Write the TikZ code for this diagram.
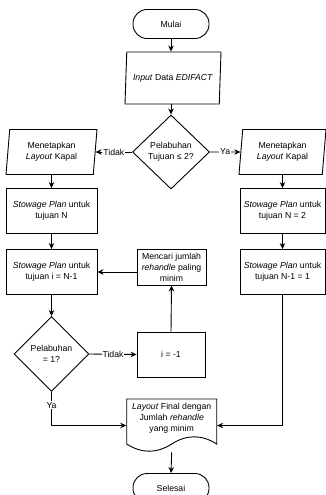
\documentclass[tikz,border=0pt]{standalone}
\usepackage{fontspec}
\setmainfont{Liberation Sans}
\usetikzlibrary{shapes.geometric,arrows.meta,calc}
\begin{document}
\begin{tikzpicture}[x=1pt,y=-1pt,
  font=\fontsize{8.7}{11}\selectfont,
  line width=0.9pt,
  base/.style={draw, fill=white, align=center, inner sep=1pt},
  term/.style={base, rectangle, rounded corners=14pt, minimum width=76pt, minimum height=29pt},
  proc/.style={base, rectangle, minimum height=45pt},
  io/.style={base, trapezium, trapezium left angle=80, trapezium right angle=100, trapezium stretches body, inner xsep=0pt},
  dec/.style={base, diamond, inner sep=0pt},
  arr/.style={-{Stealth[length=6pt,width=5.5pt]}},
  lbl/.style={fill=white, inner sep=1pt},
]
\useasboundingbox (0,0) rectangle (326,495);
% nodes
\node[term] (mulai) at (171,24) {Mulai};
\node[io, minimum width=96pt, minimum height=52pt] (input) at (173,78) {\textit{Input} Data \textit{EDIFACT}};
\node[dec, minimum width=77pt, minimum height=74pt] (d1) at (171,152) {Pelabuhan\\Tujuan ≤ 2?};
\node[io, minimum width=91pt, minimum height=45pt] (layL) at (51.5,152) {Menetapkan\\\textit{Layout} Kapal};
\node[io, minimum width=87pt, minimum height=45pt] (layR) at (282.5,152) {Menetapkan\\\textit{Layout} Kapal};
\node[proc, minimum width=91pt] (spN) at (51.5,211) {\textit{Stowage Plan} untuk\\tujuan N};
\node[proc, minimum width=91pt] (spI) at (51.5,272) {\textit{Stowage Plan} untuk\\tujuan i = N-1};
\node[proc, minimum width=85pt] (spN2) at (282.5,211) {\textit{Stowage Plan} untuk\\tujuan N = 2};
\node[proc, minimum width=85pt] (spN1) at (282.5,272) {\textit{Stowage Plan} untuk\\tujuan N-1 = 1};
\node[proc, minimum width=69pt, minimum height=36pt] (cari) at (171.5,267) {Mencari jumlah\\\textit{rehandle} paling\\minim};
\node[dec, minimum width=75pt, minimum height=75pt] (d2) at (51.5,354) {Pelabuhan\\= 1?};
\node[proc, minimum width=68pt] (iset) at (171,354.5) {i = -1};
\node[minimum width=90pt, minimum height=53pt, inner sep=0pt] (doc) at (171.7,425.5) {};
\draw[fill=white] (126.7,399) -- (216.7,399) -- (216.7,444)
  .. controls (201.7,434.4) and (186.7,434.4) .. (171.7,444)
  .. controls (156.7,453.6) and (141.7,453.6) .. (126.7,444) -- cycle;
\node[align=center] (doctext) at (171.7,418) {\textit{Layout} Final dengan\\Jumlah \textit{rehandle}\\yang minim};
\node[term] (selesai) at (171,488) {Selesai};
% connectors
\draw[arr] (mulai.south) -- (mulai.south |- input.north);
\draw[arr] (input.south -| d1.north) -- (d1.north);
\draw[arr] (d1.west) -- (layL.east) node[midway, lbl] {Tidak};
\draw[arr] (d1.east) -- (layR.west) node[midway, lbl] {Ya};
\draw[arr] (layL.south) -- (spN.north);
\draw[arr] (spN.south) -- (spI.north);
\draw[arr] (layR.south) -- (spN2.north);
\draw[arr] (spN2.south) -- (spN1.north);
\draw[arr] (cari.west |- spI.east) -- (spI.east);
\draw[arr] (spI.south) -- (d2.north);
\draw[arr] (d2.east) -- (iset.west) node[midway, lbl] {Tidak};
\draw[arr] (iset.north) -- (cari.south);
\draw[arr] (d2.south) |- (doc.west) node[pos=0.2, lbl] {Ya};
\draw[arr] (spN1.south) |- (doc.east);
\draw[arr] (doc.south) -- (selesai.north);
\end{tikzpicture}
\end{document}
